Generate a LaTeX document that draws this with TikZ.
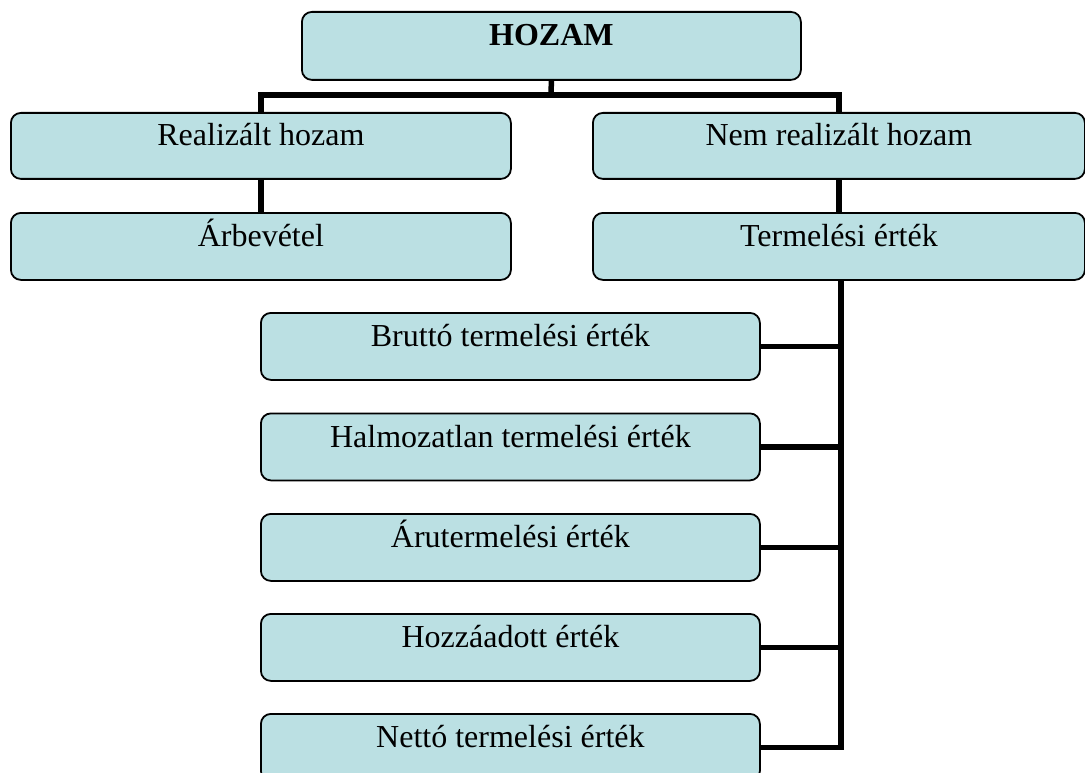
\documentclass[tikz,border=0pt]{standalone}
\usepackage{fontspec}
\setmainfont{Liberation Serif}
\definecolor{boxfill}{RGB}{187,224,227}
\begin{document}
\begin{tikzpicture}[x=1pt,y=-1pt,
  box/.style={draw=black, line width=1.8pt, fill=boxfill, rounded corners=10pt,
    anchor=north west, inner sep=0pt, minimum height=67pt},
  wide/.style={box, minimum width=500pt},
  sub/.style={box, minimum width=499pt},
  lbl/.style={anchor=base, inner sep=0pt, font=\fontsize{32}{38}\selectfont},
  conn/.style={draw=black, line width=5.5pt, line join=miter}]
\useasboundingbox (0,0) rectangle (1085,773);

% top level
\node[box, minimum width=499pt, minimum height=68pt] (hozam) at (301,11) {};
\node[lbl, font=\fontsize{32}{38}\selectfont\bfseries] at ([yshift=-35pt]hozam.north) {HOZAM};

% second level
\node[wide, minimum height=66pt] (real) at (10,112) {};
\node[lbl] at ([yshift=-34pt]real.north) {Realizált hozam};
\node[wide, minimum width=492pt, minimum height=66pt] (nemreal) at (592,112) {};
\node[lbl] at ([yshift=-34pt]nemreal.north) {Nem realizált hozam};

% third level
\node[wide] (arbev) at (10,212) {};
\node[lbl] at ([yshift=-34pt]arbev.north) {Árbevétel};
\node[wide, minimum width=492pt] (termel) at (592,212) {};
\node[lbl] at ([yshift=-34pt]termel.north) {Termelési érték};

% kinds of production value
\node[sub] (brutto) at (260,312) {};
\node[lbl] at ([yshift=-34.5pt]brutto.north) {Bruttó termelési érték};
\node[sub] (halm) at (260,412.5) {};
\node[lbl] at ([yshift=-34.5pt]halm.north) {Halmozatlan termelési érték};
\node[sub] (aru) at (260,513) {};
\node[lbl] at ([yshift=-34.5pt]aru.north) {Árutermelési érték};
\node[sub] (hozza) at (260,613) {};
\node[lbl] at ([yshift=-34.5pt]hozza.north) {Hozzáadott érték};
\node[sub] (netto) at (260,713) {};
\node[lbl] at ([yshift=-34.5pt]netto.north) {Nettó termelési érték};

% connectors
\coordinate (split) at (551,95);
\coordinate (trunk) at ([xshift=2pt]termel.south);
\draw[conn] (hozam.south) -- (split);
\draw[conn] (real.north) |- (split) -| (nemreal.north);
\draw[conn] (real.south) -- (arbev.north);
\draw[conn] (nemreal.south) -- (termel.north);
\draw[conn] (trunk) |- (netto.east);
\foreach \n in {brutto,halm,aru,hozza}
  \draw[conn] (\n.east) -- (\n.east -| trunk);
\end{tikzpicture}
\end{document}
